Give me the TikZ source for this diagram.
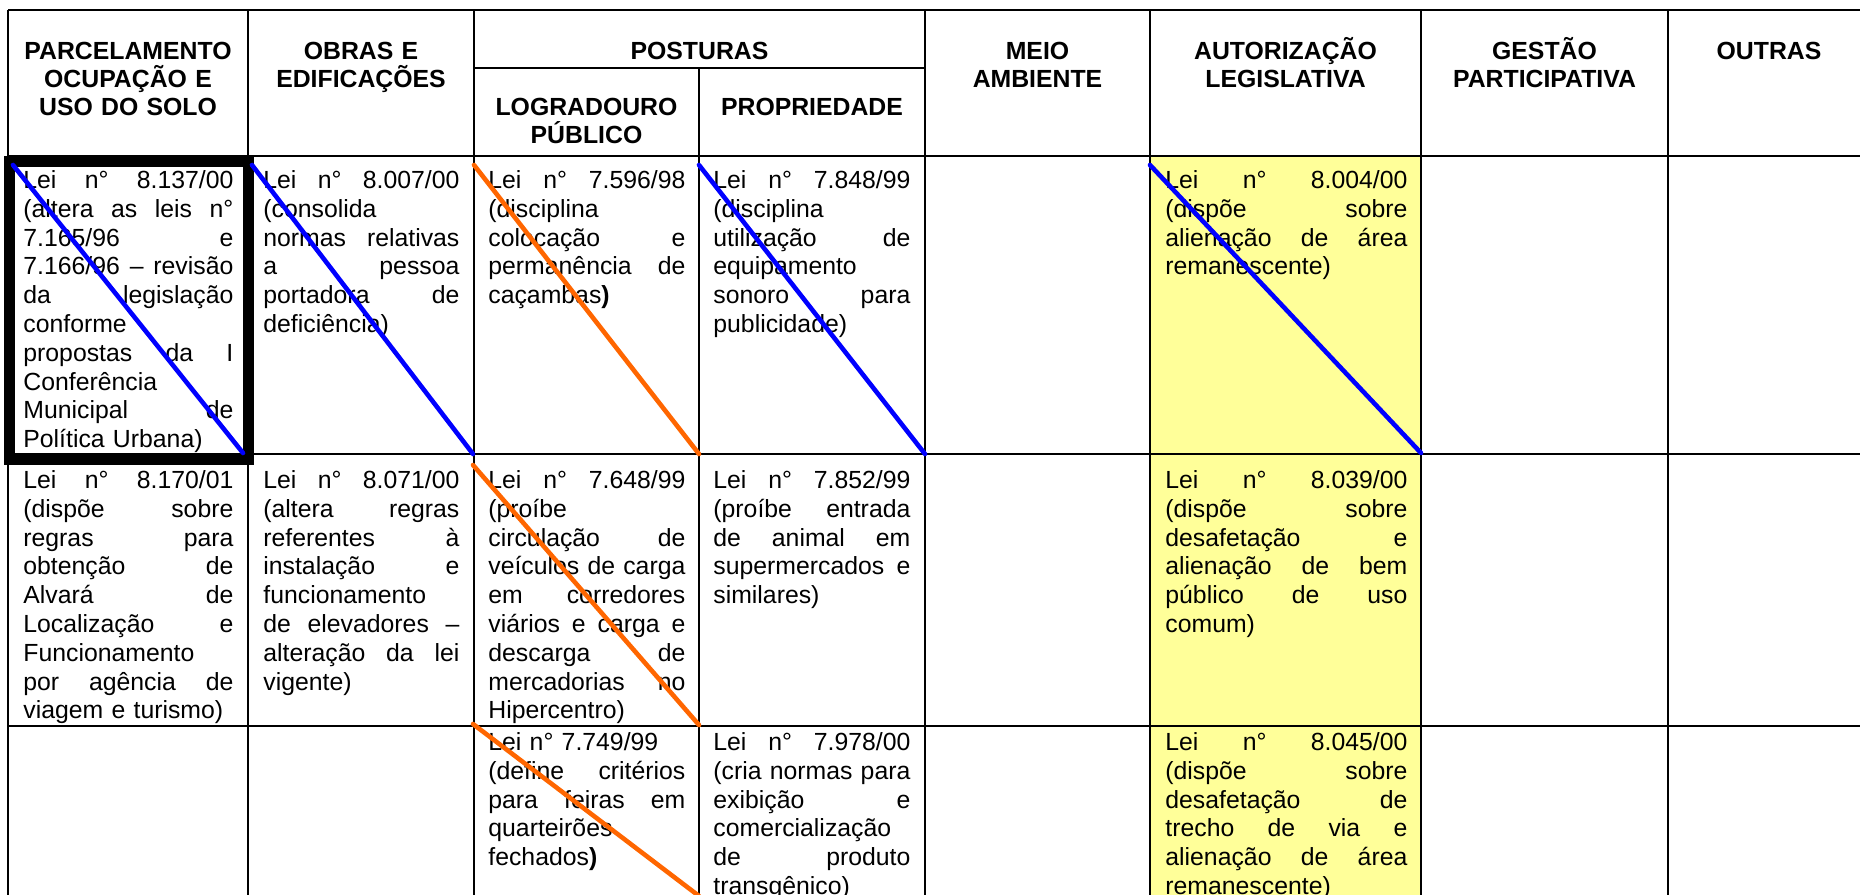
\documentclass[tikz,border=0pt]{standalone}
\usepackage{fontspec}
\setmainfont{Liberation Sans}
\newcommand\mystrut{\rule{0pt}{10pt}}
\newcommand\hstrut{\rule{0pt}{12pt}}
\newcommand\cellfont{\fontsize{12.4}{14.4}\selectfont}
\newcommand\hdfont{\bfseries\fontsize{12.4}{14}\selectfont}
\definecolor{strkblue}{RGB}{0,0,255}
\definecolor{strkorange}{RGB}{255,102,0}
\definecolor{cellyellow}{RGB}{255,255,153}
\tikzset{
  body/.style={anchor=north west, inner sep=0pt, text width=#1, align=left, font=\cellfont},
  head/.style={anchor=north, inner sep=0pt, text width=#1, align=center, font=\hdfont},
  thinrule/.style={line width=0.6pt, black},
  thickrule/.style={line width=1.1pt, black},
  strike/.style={draw=#1, line width=2.3pt, line cap=round},
  markbox/.style={draw=black, line width=5.5pt}
}
\begin{document}
\begin{tikzpicture}[x=0.5pt,y=-0.5pt]
\useasboundingbox (0,0) rectangle (1860,895);
\clip (0,0) rectangle (1860,895);
% yellow column
\fill[cellyellow] (1150,156) rectangle (1421,900);
% grid
\draw[thickrule] (8,10) -- (1880,10);
\draw[thickrule] (8,156) -- (1880,156);
\draw[thickrule] (474,68) -- (925,68);
\draw[thickrule] (8,454) -- (1880,454);
\draw[thickrule] (8,726) -- (1880,726);
\draw[thickrule] (8,9.5) -- (8,900);
\foreach \x in {248,474,925,1150,1421} \draw[thinrule] (\x,10) -- (\x,900);
\draw[thinrule] (699,68) -- (699,900);
\draw[thickrule] (1668,10) -- (1668,900);
% headers
\node[head=120pt] (h1) at (128,35) {\hstrut PARCELAMENTO\\OCUPAÇÃO E\\USO DO SOLO};
\node[head=113pt] (h2) at (361,35) {\hstrut OBRAS E\\EDIFICAÇÕES};
\node[head=225pt] (h3) at (699.5,35) {\hstrut POSTURAS};
\node[head=112pt] (h3a) at (586.5,91) {\hstrut LOGRADOURO\\PÚBLICO};
\node[head=113pt] (h3b) at (812,91) {\hstrut PROPRIEDADE};
\node[head=112pt] (h4) at (1037.5,35) {\hstrut MEIO\\AMBIENTE};
\node[head=135pt] (h5) at (1285.5,35) {\hstrut AUTORIZAÇÃO\\LEGISLATIVA};
\node[head=123pt] (h6) at (1544.5,35) {\hstrut GESTÃO\\PARTICIPATIVA};
\node[head=100pt] (h7) at (1769,35) {\hstrut OUTRAS};
% row 1
\node[body=105pt] (r1c1) at (23,168) {\mystrut Lei\hfill n°\hfill 8.137/00\\(altera\hfill as\hfill leis\hfill n°\\7.165/96\hfill e\\7.166/96\hfill–\hfill revisão\\da\hfill legislação\\conforme\\propostas\hfill da\hfill I\\Conferência\\Municipal\hfill de\\Política Urbana)};
\node[body=98pt] (r1c2) at (263,168) {\mystrut Lei\hfill n°\hfill 8.007/00\\(consolida\\normas\hfill relativas\\a\hfill pessoa\\portadora\hfill de\\deficiência)};
\node[body=98.5pt] (r1c3) at (488,168) {\mystrut Lei\hfill n°\hfill 7.596/98\\(disciplina\\colocação\hfill e\\permanência\hfill de\\caçambas\textbf{)}};
\node[body=98.5pt] (r1c4) at (713,168) {\mystrut Lei\hfill n°\hfill 7.848/99\\(disciplina\\utilização\hfill de\\equipamento\\sonoro\hfill para\\publicidade)};
\node[body=121pt] (r1c6) at (1165,168) {\mystrut Lei\hfill n°\hfill 8.004/00\\(dispõe\hfill sobre\\alienação\hfill de\hfill área\\remanescente)};
% row 2
\node[body=105pt] (r2c1) at (23,468) {\mystrut Lei\hfill n°\hfill 8.170/01\\(dispõe\hfill sobre\\regras\hfill para\\obtenção\hfill de\\Alvará\hfill de\\Localização\hfill e\\Funcionamento\\por\hfill agência\hfill de\\viagem e turismo)};
\node[body=98pt] (r2c2) at (263,468) {\mystrut Lei\hfill n°\hfill 8.071/00\\(altera\hfill regras\\referentes\hfill à\\instalação\hfill e\\funcionamento\\de\hfill elevadores\hfill –\\alteração\hfill da\hfill lei\\vigente)};
\node[body=98.5pt] (r2c3) at (488,468) {\mystrut Lei\hfill n°\hfill 7.648/99\\(proíbe\\circulação\hfill de\\veículos\hfill de\hfill carga\\em\hfill corredores\\viários\hfill e\hfill carga\hfill e\\descarga\hfill de\\mercadorias\hfill no\\Hipercentro)};
\node[body=98.5pt] (r2c4) at (713,468) {\mystrut Lei\hfill n°\hfill 7.852/99\\(proíbe\hfill entrada\\de\hfill animal\hfill em\\supermercados\hfill e\\similares)};
\node[body=121pt] (r2c6) at (1165,468) {\mystrut Lei\hfill n°\hfill 8.039/00\\(dispõe\hfill sobre\\desafetação\hfill e\\alienação\hfill de\hfill bem\\público\hfill de\hfill uso\\comum)};
% row 3
\node[body=98.5pt] (r3c3) at (488,730) {\mystrut Lei n° 7.749/99\\(define\hfill critérios\\para\hfill feiras\hfill em\\quarteirões\\fechados\textbf{)}};
\node[body=98.5pt] (r3c4) at (713,730) {\mystrut Lei\hfill n°\hfill 7.978/00\\(cria\hfill normas\hfill para\\exibição\hfill e\\comercialização\\de\hfill produto\\transgênico)};
\node[body=121pt] (r3c6) at (1165,730) {\mystrut Lei\hfill n°\hfill 8.045/00\\(dispõe\hfill sobre\\desafetação\hfill de\\trecho\hfill de\hfill via\hfill e\\alienação\hfill de\hfill área\\remanescente)};
% highlighted cell frame
\draw[markbox] (9,161) rectangle (248,459.5);
% strike lines
\draw[strike=strkblue] (13,165) -- (243,453);
\draw[strike=strkblue] (252,165) -- (473,454);
\draw[strike=strkorange] (474,165) -- (699,454);
\draw[strike=strkblue] (699,165) -- (925,454);
\draw[strike=strkblue] (1150,165) -- (1421,453);
\draw[strike=strkorange] (473,465) -- (699,725);
\draw[strike=strkorange] (473,724) -- (699,896);
\end{tikzpicture}
\end{document}
